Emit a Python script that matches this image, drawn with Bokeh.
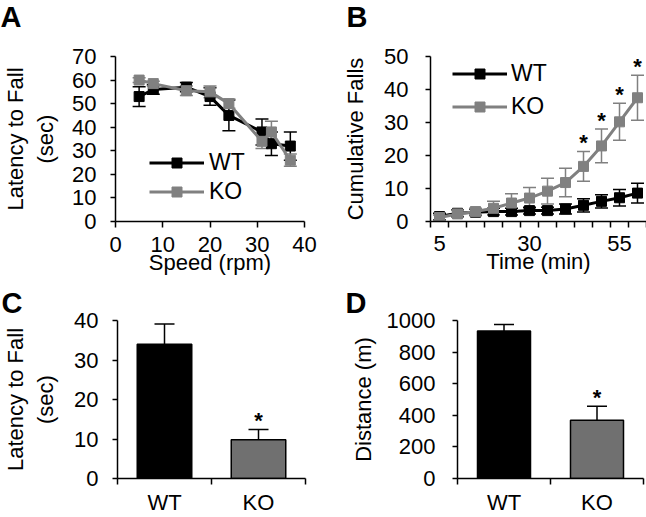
from bokeh.plotting import figure
from bokeh.layouts import column, row
from bokeh.models import (Range1d, FixedTicker, Whisker, TeeHead, ColumnDataSource,
                          Legend, LegendItem, Title)
from bokeh.core.properties import value
from bokeh.embed import file_html
from bokeh.resources import INLINE

FONT = "Liberation Sans"
BLACK = "#000000"
GRAY = "#808080"
BAR_GRAY = "#707070"

# ---------------- data ----------------
# Panel A: latency to fall vs speed
speed = [5, 8, 15, 20, 24, 31, 33, 37]
a_wt = [53, 56, 57, 53, 45, 38, 33, 32]
a_wt_err = [4.2, 2.0, 2.0, 3.7, 6.5, 5.5, 5.0, 6.0]
a_ko = [60, 58.5, 55.5, 55, 50, 34, 38, 26]
a_ko_err = [1.0, 1.0, 2.0, 2.5, 2.0, 3.0, 4.5, 2.6]
a_xticks = [0, 10, 20, 30, 40]
a_yticks = [0, 10, 20, 30, 40, 50, 60, 70]

# Panel B: cumulative falls vs time
time_min = [5, 10, 15, 20, 25, 30, 35, 40, 45, 50, 55, 60]
b_wt = [1.5, 2.5, 2.8, 3.0, 3.0, 3.3, 3.3, 3.8, 4.9, 6.1, 7.2, 8.6]
b_wt_err = [1.0, 1.0, 1.0, 1.0, 1.0, 1.0, 1.0, 1.5, 2.0, 2.0, 2.5, 3.0]
b_ko = [1.2, 2.3, 3.0, 4.0, 5.6, 7.1, 9.2, 11.8, 16.7, 22.9, 30.2, 37.5]
b_ko_err = [0.8, 1.0, 1.0, 2.1, 2.8, 3.2, 3.9, 4.3, 4.5, 5.1, 5.6, 6.8]
b_ko_sig = [False] * 8 + [True] * 4
b_xtick_labels = [5, 30, 55]
b_yticks = [0, 10, 20, 30, 40, 50]

# Panel C / D: bar charts
groups = ["WT", "KO"]
c_latency = [34.0, 9.8]
c_err = [5.1, 2.6]
c_sig = [False, True]
c_yticks = [0, 10, 20, 30, 40]
d_distance = [934, 368]
d_err = [41, 90]
d_sig = [False, True]
d_yticks = [0, 200, 400, 600, 800, 1000]

panel_letters_top = ["A", "B"]

TICK_FS = "22px"
TITLE_FS = "22px"
W = 646
STRIP1 = 33
H1 = 251
H2 = 517 - STRIP1 - H1


def make_fig(w, h, l, r, t, b, xr, yr):
    p = figure(width=w, height=h, x_range=xr, y_range=yr, output_backend="svg",
               toolbar_location=None, title=None,
               min_border_left=l, min_border_right=r, min_border_top=t, min_border_bottom=b)
    p.outline_line_color = None
    p.grid.visible = False
    p.background_fill_color = "white"
    p.border_fill_color = "white"
    for ax in p.axis:
        ax.axis_line_width = 1.5
        ax.axis_line_color = BLACK
        ax.major_tick_line_width = 1.5
        ax.minor_tick_line_width = 1.5
        ax.major_tick_line_color = BLACK
        ax.minor_tick_line_color = BLACK
        ax.major_tick_in = 0
        ax.minor_tick_in = 0
        ax.minor_tick_out = 0
        ax.major_tick_out = 6
        ax.major_label_text_font = FONT
        ax.major_label_text_font_size = TICK_FS
        ax.major_label_text_color = BLACK
        ax.axis_label_text_font = FONT
        ax.axis_label_text_font_size = TITLE_FS
        ax.axis_label_text_font_style = "normal"
        ax.axis_label_text_color = BLACK
    return p


def letter_strip(h, xs, baseline, letters):
    s = figure(width=W, height=h, x_range=Range1d(0, W), y_range=Range1d(0, h),
               output_backend="svg", toolbar_location=None, title=None,
               x_axis_type=None, y_axis_type=None, min_border=0)
    s.min_border_left = s.min_border_right = s.min_border_top = s.min_border_bottom = 0
    s.outline_line_color = None
    s.grid.visible = False
    s.background_fill_color = "white"
    s.border_fill_color = "white"
    s.text(x=xs, y=[baseline] * len(xs), text=letters, text_font=value(FONT),
           text_font_style="bold", text_font_size="29px", text_align="left",
           text_baseline="alphabetic", text_color=BLACK)
    return s


def letter_title(p, letter, offset):
    p.add_layout(Title(text=letter, align="left", offset=offset, standoff=0,
                       vertical_align="top", text_font=FONT, text_font_style="bold",
                       text_font_size="29px", text_color=BLACK), "above")


def add_whiskers(p, x, m, e, color, cap):
    src = ColumnDataSource(dict(x=x, upper=[a + b for a, b in zip(m, e)],
                                lower=[a - b for a, b in zip(m, e)]))
    w = Whisker(base="x", upper="upper", lower="lower", source=src,
                line_color=color, line_width=1.5,
                upper_head=TeeHead(size=cap, line_color=color, line_width=1.5),
                lower_head=TeeHead(size=cap, line_color=color, line_width=1.5))
    p.add_layout(w)


def add_stars(p, x, m, e, sig):
    xs = [a for a, s in zip(x, sig) if s]
    ys = [a + b for a, b, s in zip(m, e, sig) if s]
    p.text(x=xs, y=ys, text=["*"] * len(xs), text_font=value(FONT),
           text_font_style="bold", text_font_size="22px", text_align="center",
           text_baseline="middle", y_offset=-9, text_color=BLACK)


def style_legend(p, items, loc, spacing, standoff):
    lg = Legend(items=items, location=loc, padding=0, margin=0, spacing=spacing,
                glyph_width=55, glyph_height=25, label_standoff=standoff,
                border_line_color=None, background_fill_alpha=0,
                label_text_font=FONT, label_text_font_size="23px",
                label_text_color=BLACK)
    p.add_layout(lg)


# ---------------- letters A / B ----------------
strip_top = letter_strip(STRIP1, [0, 346], 17, panel_letters_top)

# ---------------- Panel A ----------------
pA = make_fig(325, H1, 113, 21, 21, 63, Range1d(0, 40), Range1d(0, 70))
pA.xaxis.ticker = FixedTicker(ticks=a_xticks)
pA.yaxis.ticker = FixedTicker(ticks=a_yticks)
pA.xaxis.axis_label = "Speed (rpm)"
pA.yaxis.axis_label = "Latency to Fall\n(sec)"
pA.xaxis.major_label_standoff = 9
pA.xaxis.axis_label_standoff = -5
pA.yaxis.major_tick_out = 5
pA.yaxis.major_label_standoff = 14
pA.yaxis.axis_label_standoff = 11
la_wt = pA.line(speed, a_wt, line_color=BLACK, line_width=3)
sa_wt = pA.scatter(speed, a_wt, marker="square", size=10, color=BLACK)
la_ko = pA.line(speed, a_ko, line_color=GRAY, line_width=3)
sa_ko = pA.scatter(speed, a_ko, marker="square", size=10, color=GRAY)
add_whiskers(pA, speed, a_wt, a_wt_err, BLACK, 13)
add_whiskers(pA, speed, a_ko, a_ko_err, GRAY, 13)
style_legend(pA, [LegendItem(label="WT", renderers=[la_wt, sa_wt]),
                  LegendItem(label="KO", renderers=[la_ko, sa_ko])], (34, 16), 2, 5)

# ---------------- Panel B ----------------
step = time_min[1] - time_min[0]
b_lo = time_min[0] - step / 2
b_hi = time_min[-1] + step / 2
pB = make_fig(321, H1, 105, 0, 23, 62, Range1d(b_lo, b_hi), Range1d(0, 50))
b_bounds = [t - step / 2 for t in time_min] + [b_hi]
pB.xaxis.ticker = FixedTicker(ticks=b_xtick_labels, minor_ticks=b_bounds)
pB.xaxis.major_tick_out = 0
pB.xaxis.minor_tick_out = 6
pB.yaxis.ticker = FixedTicker(ticks=b_yticks)
pB.xaxis.axis_label = "Time (min)"
pB.yaxis.axis_label = "Cumulative Falls"
pB.xaxis.major_label_standoff = 8
pB.xaxis.axis_label_standoff = -5
pB.yaxis.major_tick_out = 5
pB.yaxis.major_label_standoff = 17
pB.yaxis.axis_label_standoff = 13
lb_wt = pB.line(time_min, b_wt, line_color=BLACK, line_width=3)
sb_wt = pB.scatter(time_min, b_wt, marker="square", size=10, color=BLACK)
lb_ko = pB.line(time_min, b_ko, line_color=GRAY, line_width=3)
sb_ko = pB.scatter(time_min, b_ko, marker="square", size=10, color=GRAY)
add_whiskers(pB, time_min, b_wt, b_wt_err, BLACK, 13)
add_whiskers(pB, time_min, b_ko, b_ko_err, GRAY, 13)
add_stars(pB, time_min, b_ko, b_ko_err, b_ko_sig)
style_legend(pB, [LegendItem(label="WT", renderers=[lb_wt, sb_wt]),
                  LegendItem(label="KO", renderers=[lb_ko, sb_ko])], (22, 101), 6, 4)

# ---------------- Panel C ----------------
gx = [i + 0.5 for i in range(len(groups))]
g_bounds = [float(i) for i in range(len(groups) + 1)]
g_labels = {x: g for x, g in zip(gx, groups)}

pC = make_fig(325, H2, 116, 20, 36, 38, Range1d(0, len(groups)), Range1d(0, 40))
pC.xaxis.ticker = FixedTicker(ticks=gx, minor_ticks=g_bounds)
pC.xaxis.major_label_overrides = g_labels
pC.xaxis.major_tick_out = 0
pC.xaxis.minor_tick_out = 6
pC.xaxis.major_label_standoff = 5
pC.yaxis.ticker = FixedTicker(ticks=c_yticks)
pC.yaxis.axis_label = "Latency to Fall\n(sec)"
pC.yaxis.major_tick_out = 5
pC.yaxis.major_label_standoff = 14
pC.yaxis.axis_label_standoff = 13
pC.vbar(x=gx, top=c_latency, width=0.58, fill_color=[BLACK, BAR_GRAY],
        line_color=BLACK, line_width=1.5)
add_whiskers(pC, gx, c_latency, c_err, BLACK, 20)
add_stars(pC, gx, c_latency, c_err, c_sig)
letter_title(pC, "C", -116)

# ---------------- Panel D ----------------
pD = make_fig(321, H2, 132, 3, 34, 38, Range1d(0, len(groups)), Range1d(0, 1000))
pD.xaxis.ticker = FixedTicker(ticks=gx, minor_ticks=g_bounds)
pD.xaxis.major_label_overrides = g_labels
pD.xaxis.major_tick_out = 0
pD.xaxis.minor_tick_out = 6
pD.xaxis.major_label_standoff = 5
pD.yaxis.ticker = FixedTicker(ticks=d_yticks)
pD.yaxis.axis_label = "Distance (m)"
pD.yaxis.major_tick_out = 5
pD.yaxis.major_label_standoff = 17
pD.yaxis.axis_label_standoff = 8
pD.vbar(x=gx, top=d_distance, width=0.57, fill_color=[BLACK, BAR_GRAY],
        line_color=BLACK, line_width=1.5)
add_whiskers(pD, gx, d_distance, d_err, BLACK, 20)
add_stars(pD, gx, d_distance, d_err, d_sig)
letter_title(pD, "D", -112)

layout = column(strip_top, row(pA, pB), row(pC, pD))
open("out.html", "w").write(file_html(layout, INLINE))
